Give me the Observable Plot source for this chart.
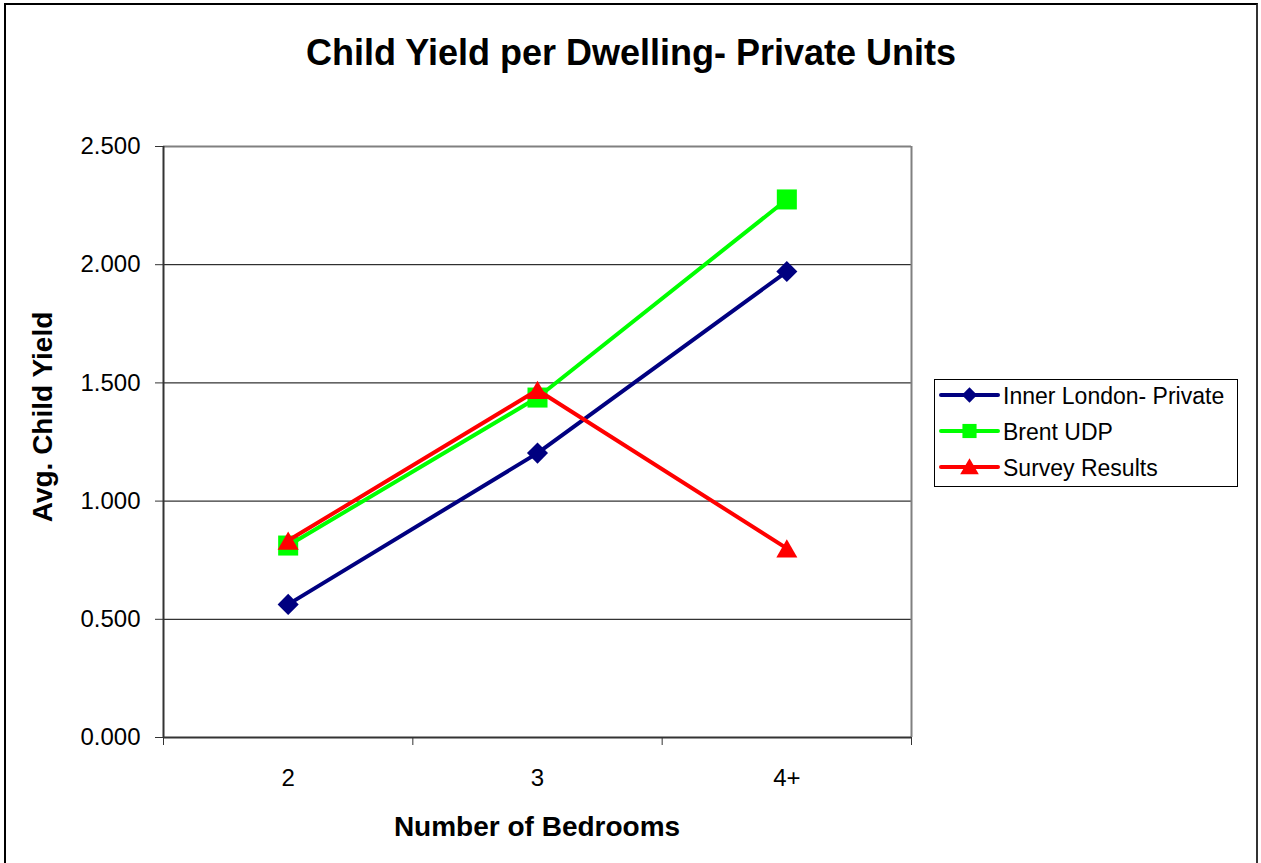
<!DOCTYPE html>
<html>
<head>
<meta charset="utf-8">
<script src="https://cdn.jsdelivr.net/npm/d3@7"></script>
<script src="https://cdn.jsdelivr.net/npm/@observablehq/plot@0.6"></script>
<style>
  html, body { margin: 0; padding: 0; background: #fff; overflow: hidden; }
  #chart { position: relative; width: 1261px; height: 863px; font-family: Arial, "Liberation Sans", sans-serif; }
  #chart > svg { position: absolute; left: 0; top: 0; }
  #frame { position: absolute; left: 4px; top: 3px; width: 1250px; height: 900px; border: 2px solid #000; border-right-color: #333; pointer-events: none; }
</style>
</head>
<body>
<div id="chart"><div id="frame"></div></div>
<script>
// ---- data ----
const categories = ["2", "3", "4+"];
const innerLondon = [0.563, 1.203, 1.971];
const brentUDP = [0.812, 1.438, 2.276];
const surveyResults = [0.833, 1.470, 0.800];
const seriesNames = ["Inner London- Private", "Brent UDP", "Survey Results"];
const seriesColors = ["#000080", "#00FF00", "#FF0000"];
const seriesSymbols = ["diamond2", "square", "triangle"];
const yTicks = [0, 0.5, 1.0, 1.5, 2.0, 2.5];
const titleText = "Child Yield per Dwelling- Private Units";
const xTitle = "Number of Bedrooms";
const yTitle = "Avg. Child Yield";

const seriesValues = [innerLondon, brentUDP, surveyResults];
const rows = seriesValues.map((vals, s) => vals.map((v, i) => ({series: seriesNames[s], xi: i + 0.5, value: v})));
const markerR = [9.5, 11.3, 7.8];
const markerDy = [0, 0, 3];

const font = 'Arial, "Liberation Sans", sans-serif';

const seriesMarks = rows.flatMap((r, s) => [
  Plot.line(r, {x: "xi", y: "value", stroke: seriesColors[s], strokeWidth: 4}),
  Plot.dot(r, {x: "xi", y: "value", symbol: seriesSymbols[s], fill: seriesColors[s], stroke: "none", r: markerR[s], dy: markerDy[s]})
]);

const plot = Plot.plot({
  width: 1261,
  height: 863,
  marginLeft: 163,
  marginRight: 350,
  marginTop: 146,
  marginBottom: 126,
  x: {domain: [0, categories.length], axis: null},
  y: {domain: [0, 2.5], axis: null},
  style: {fontFamily: font, fontSize: "24px", color: "#000", background: "transparent"},
  marks: [
    Plot.ruleY(yTicks.filter(d => d > 0 && d < 2.5), {stroke: "#000", strokeWidth: 1}),
    Plot.ruleY([2.5], {stroke: "#808080", strokeWidth: 2}),
    Plot.ruleX([categories.length], {stroke: "#808080", strokeWidth: 2}),
    Plot.axisY(yTicks, {tickSize: 8, tickPadding: 15, tickFormat: d3.format(".3f"), fontSize: 24, label: null, stroke: "#333"}),
    Plot.axisX(d3.range(categories.length + 1), {tickSize: 8, tickFormat: () => "", label: null, stroke: "#333"}),
    Plot.axisX(categories.map((c, i) => i + 0.5), {tickSize: 0, tickPadding: 31, fontSize: 24, tickFormat: d => categories[Math.floor(d)], label: null}),
    Plot.ruleX([0], {stroke: "#333", strokeWidth: 2}),
    Plot.ruleY([0], {stroke: "#333", strokeWidth: 2}),
    ...seriesMarks
  ]
});

const chart = document.getElementById("chart");
chart.insertBefore(plot, chart.firstChild);

// ---- overlay: titles and legend ----
const ov = d3.select(chart).append("svg")
  .attr("width", 1261).attr("height", 863)
  .style("position", "absolute").style("left", 0).style("top", 0)
  .style("font-family", font);

ov.append("text").attr("x", 631).attr("y", 65).attr("text-anchor", "middle")
  .attr("font-size", 36).attr("font-weight", "bold").text(titleText);

ov.append("text").attr("x", 537).attr("y", 836).attr("text-anchor", "middle")
  .attr("font-size", 28).attr("font-weight", "bold").text(xTitle);

ov.append("text").attr("transform", "translate(52,417) rotate(-90)").attr("text-anchor", "middle")
  .attr("font-size", 28).attr("font-weight", "bold").text(yTitle);

const lg = ov.append("g");
lg.append("rect").attr("x", 934.5).attr("y", 379.5).attr("width", 303).attr("height", 107)
  .attr("fill", "#fff").attr("stroke", "#000").attr("stroke-width", 1);
const legendSym = {diamond2: d3.symbolDiamond2, square: d3.symbolSquare, triangle: d3.symbolTriangle};
const legendSize = [150, 200, 150];
seriesNames.forEach((name, s) => {
  const cy = 395 + s * 36;
  lg.append("line").attr("x1", 941).attr("x2", 998).attr("y1", cy).attr("y2", cy)
    .attr("stroke", seriesColors[s]).attr("stroke-width", 4).attr("stroke-linecap", "round");
  lg.append("path").attr("d", d3.symbol(legendSym[seriesSymbols[s]], legendSize[s])())
    .attr("transform", `translate(969.5,${cy + (s === 2 ? 2 : 0)})`).attr("fill", seriesColors[s]);
  lg.append("text").attr("x", 1003).attr("y", cy + 8.5).attr("font-size", 23).text(name);
});
</script>
</body>
</html>
